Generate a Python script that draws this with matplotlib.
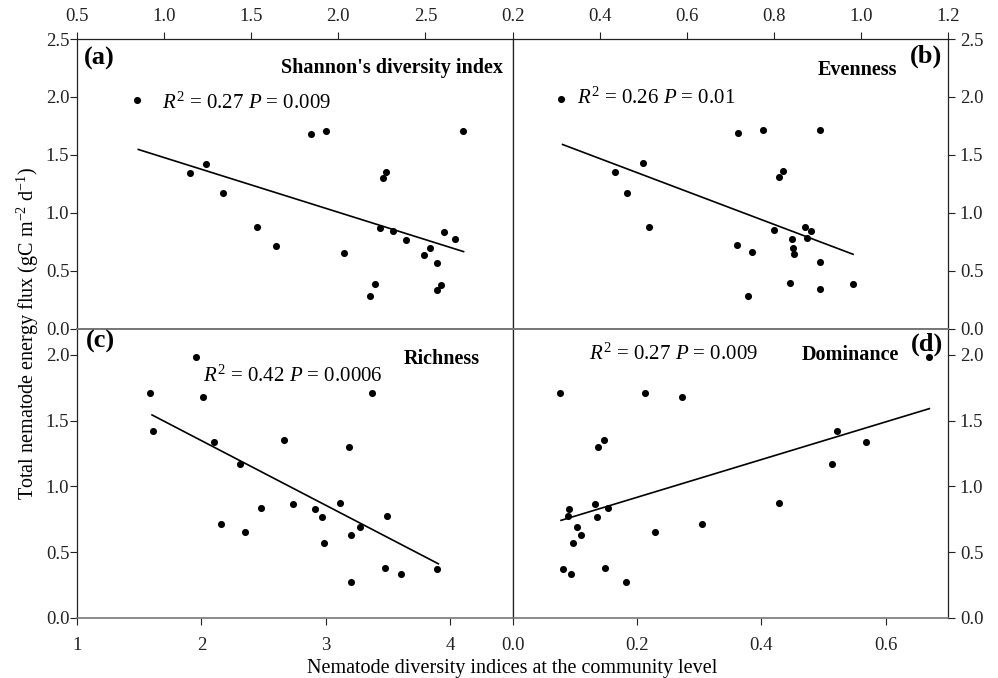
import numpy as np
import matplotlib
matplotlib.use('Agg')
import matplotlib.pyplot as plt

plt.rcParams['font.family'] = 'Liberation Serif'
plt.rcParams['mathtext.fontset'] = 'custom'
plt.rcParams['mathtext.rm'] = 'Liberation Serif'
plt.rcParams['mathtext.it'] = 'Liberation Serif:italic'
plt.rcParams['mathtext.bf'] = 'Liberation Serif:bold'

# (a) Shannon's diversity index
shannon_x = [0.847, 1.150, 1.239, 1.338, 1.536, 1.645, 1.845, 1.929, 2.030, 2.182, 2.213, 2.239,
             2.256, 2.275, 2.315, 2.386, 2.494, 2.525, 2.565, 2.569, 2.590, 2.609, 2.668, 2.715]
shannon_y = [1.977, 1.339, 1.420, 1.166, 0.873, 0.716, 1.678, 1.707, 0.655, 0.279, 0.385, 0.868,
             1.302, 1.353, 0.842, 0.767, 0.635, 0.692, 0.569, 0.336, 0.376, 0.833, 0.776, 1.707]
shannon_fit_x = [0.852, 2.719]
shannon_fit_y = [1.546, 0.664]

# (b) Evenness
even_x = [0.312, 0.436, 0.463, 0.499, 0.513, 0.715, 0.718, 0.740, 0.750, 0.776, 0.801, 0.813,
          0.820, 0.838, 0.842, 0.843, 0.847, 0.872, 0.877, 0.886, 0.905, 0.906, 0.907, 0.981]
even_y = [1.985, 1.348, 1.172, 1.425, 0.879, 0.721, 1.684, 0.284, 0.661, 1.713, 0.848, 1.307,
          1.359, 0.391, 0.773, 0.698, 0.641, 0.874, 0.782, 0.839, 1.713, 0.575, 0.342, 0.385]
even_fit_x = [0.315, 0.982]
even_fit_y = [1.589, 0.641]

# (c) Richness
rich_x = [1.585, 1.611, 1.960, 2.014, 2.102, 2.161, 2.314, 2.352, 2.478, 2.663, 2.735, 2.909,
          2.973, 2.987, 3.110, 3.188, 3.199, 3.204, 3.277, 3.373, 3.475, 3.491, 3.607, 3.896]
rich_y = [1.707, 1.419, 1.980, 1.677, 1.341, 0.715, 1.167, 0.652, 0.838, 1.351, 0.866, 0.831,
          0.765, 0.568, 0.874, 1.303, 0.634, 0.273, 0.689, 1.707, 0.379, 0.773, 0.333, 0.376]
rich_fit_x = [1.603, 3.904]
rich_fit_y = [1.543, 0.412]

# (d) Dominance
dom_x = [0.077, 0.081, 0.090, 0.091, 0.094, 0.098, 0.103, 0.110, 0.133, 0.136, 0.138, 0.147,
         0.149, 0.153, 0.182, 0.2135, 0.2285, 0.273, 0.305, 0.4285, 0.514, 0.521, 0.569, 0.670]
dom_y = [1.707, 0.376, 0.775, 0.831, 0.333, 0.568, 0.689, 0.634, 0.866, 0.765, 1.303, 1.351,
         0.379, 0.838, 0.273, 1.707, 0.652, 1.677, 0.715, 0.874, 1.167, 1.419, 1.341, 1.980]
dom_fit_x = [0.078, 0.670]
dom_fit_y = [0.742, 1.591]

titles = ["Shannon's diversity index", "Evenness", "Richness", "Dominance"]
labels = ["(a)", "(b)", "(c)", "(d)"]
stats = [r"$R^2$ = 0.27 $P$ = 0.009", r"$R^2$ = 0.26 $P$ = 0.01",
         r"$R^2$ = 0.42 $P$ = 0.0006", r"$R^2$ = 0.27 $P$ = 0.009"]

fig, axes = plt.subplots(2, 2, figsize=(9.98, 6.78), dpi=100)
fig.subplots_adjust(left=77/998, right=948/998, top=1-39/678, bottom=1-618/678,
                    hspace=0, wspace=0)
ax_a, ax_b, ax_c, ax_d = axes.ravel()

panels = [
    (ax_a, shannon_x, shannon_y, shannon_fit_x, shannon_fit_y),
    (ax_b, even_x, even_y, even_fit_x, even_fit_y),
    (ax_c, rich_x, rich_y, rich_fit_x, rich_fit_y),
    (ax_d, dom_x, dom_y, dom_fit_x, dom_fit_y),
]
for ax, x, y, fx, fy in panels:
    ax.scatter(x, y, s=26, color='black', zorder=3, linewidths=0)
    ax.plot(fx, fy, color='black', lw=1.2)

# limits and ticks
ax_a.set_xlim(0.5, 3.0)
ax_a.set_xticks(np.arange(0.5, 2.51, 0.5))
ax_a.set_ylim(0, 2.5)
ax_a.set_yticks(np.arange(0, 2.51, 0.5))
ax_b.set_xlim(0.2, 1.2)
ax_b.set_xticks(np.arange(0.2, 1.21, 0.2))
ax_b.set_ylim(0, 2.5)
ax_b.set_yticks(np.arange(0, 2.51, 0.5))
ax_c.set_xlim(1, 4.5)
ax_c.set_xticks([1, 2, 3, 4])
ax_c.set_ylim(0, 2.2)
ax_c.set_yticks(np.arange(0, 2.01, 0.5))
ax_d.set_xlim(0, 0.7)
ax_d.set_xticks(np.arange(0, 0.61, 0.2))
ax_d.set_ylim(0, 2.2)
ax_d.set_yticks(np.arange(0, 2.01, 0.5))

fmt1 = matplotlib.ticker.FormatStrFormatter('%.1f')
for ax in (ax_a, ax_b, ax_d):
    ax.xaxis.set_major_formatter(fmt1)
for ax in axes.ravel():
    ax.yaxis.set_major_formatter(fmt1)
    ax.tick_params(direction='out', length=5, width=0.8, labelsize=13.5,
                   colors='#222222')

for ax in (ax_a, ax_b):
    ax.xaxis.tick_top()
    ax.tick_params(axis='x', pad=5)
for ax in (ax_c, ax_d):
    ax.tick_params(axis='x', pad=9)
for ax in (ax_b, ax_d):
    ax.yaxis.tick_right()
    ax.tick_params(axis='y', pad=3.5)
for ax in (ax_a, ax_c):
    ax.tick_params(axis='y', pad=0.5)

for ax in axes.ravel():
    for s in ax.spines.values():
        s.set_color('#222222')
        s.set_linewidth(0.9)
for ax in (ax_a, ax_b):
    ax.spines['bottom'].set_color('#777777')
    ax.spines['bottom'].set_linewidth(1.4)
for ax in (ax_c, ax_d):
    ax.spines['top'].set_color('#777777')
    ax.spines['top'].set_linewidth(1.4)
    ax.spines['bottom'].set_color('#777777')
    ax.spines['bottom'].set_linewidth(1.2)

# panel texts
lab_pos = [(0.016, 0.934, 'left'), (0.986, 0.941, 'right'),
           (0.021, 0.956, 'left'), (0.989, 0.945, 'right')]
title_pos = [(0.979, 0.900), (0.883, 0.893), (0.926, 0.893), (0.888, 0.910)]
stat_pos = [(0.195, 0.779), (0.147, 0.797), (0.290, 0.835), (0.175, 0.910)]
for i, ax in enumerate(axes.ravel()):
    lx, ly, ha = lab_pos[i]
    ax.text(lx, ly, labels[i], transform=ax.transAxes, ha=ha, va='center',
            fontsize=19, fontweight='bold')
    tx, ty = title_pos[i]
    ax.text(tx, ty, titles[i], transform=ax.transAxes, ha='right', va='center',
            fontsize=14.5, fontweight='bold')
    sx, sy = stat_pos[i]
    ax.text(sx, sy, stats[i], transform=ax.transAxes, ha='left', va='center',
            fontsize=15)

fig.text(28/998, 1-333/678, r"Total nematode energy flux (gC m$^{-2}$ d$^{-1}$)",
         rotation=90, ha='center', va='center', fontsize=14.5)
fig.text(512/998, 1-668/678, "Nematode diversity indices at the community level",
         ha='center', va='center', fontsize=14.5)

fig.savefig('out.png', dpi=100)
